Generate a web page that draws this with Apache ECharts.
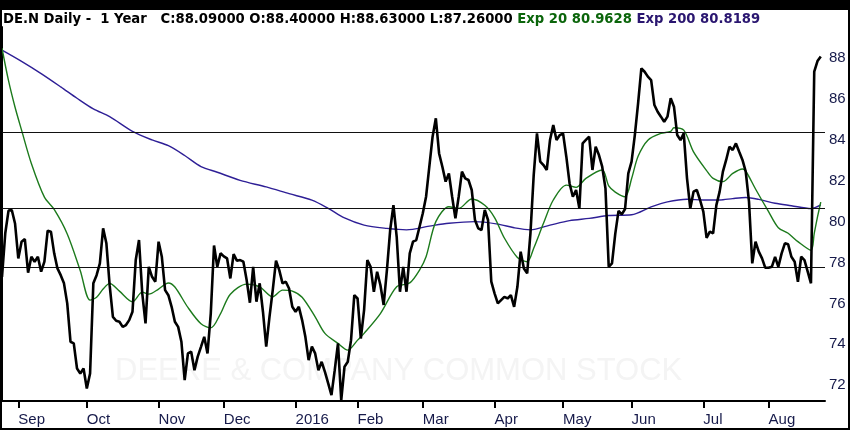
<!DOCTYPE html>
<html>
<head>
<meta charset="utf-8">
<script src="https://cdn.jsdelivr.net/npm/echarts@6/dist/echarts.min.js"></script>
<style>html,body{margin:0;padding:0;background:#fff}#c{width:850px;height:430px}</style>
</head>
<body>
<div id="c"></div>
<script>
// Daily closes (trading-day index 0..251)
const closes = [
77.30,79.43,80.54,80.57,79.91,78.20,79.02,79.15,77.50,78.28,
78.04,78.28,77.55,78.04,79.56,79.51,78.45,77.71,77.38,76.98,
76.00,74.12,74.04,72.81,72.57,72.81,71.83,72.57,76.98,77.38,
77.96,79.67,78.94,76.89,75.34,75.15,75.10,74.85,74.94,75.18,
75.59,78.12,79.10,76.49,75.02,77.79,77.30,77.06,79.02,78.28,
76.65,76.40,75.83,75.10,74.85,74.12,72.24,73.55,73.63,72.73,
73.39,73.87,74.36,73.55,75.50,78.83,77.79,78.45,78.30,78.20,
77.22,78.41,78.09,78.12,78.04,77.14,76.03,77.79,76.08,76.98,
75.59,73.88,75.34,76.65,78.09,77.63,76.98,77.06,76.73,75.83,
75.59,75.83,75.18,74.36,73.22,73.88,73.55,72.73,73.14,72.65,
72.08,71.51,72.73,74.04,71.26,72.90,73.14,74.20,76.40,76.24,
74.28,75.67,78.12,77.79,76.57,77.55,76.90,75.92,77.63,79.59,
80.81,79.26,76.57,77.79,76.57,78.45,79.02,79.10,79.75,80.41,
81.22,82.69,84.16,85.06,83.34,82.69,81.96,82.36,81.22,80.16,
81.22,82.45,82.12,82.04,81.55,80.08,79.67,79.59,80.57,80.08,
77.06,76.49,76.00,76.16,76.32,76.24,76.40,75.83,76.81,78.53,
77.71,77.47,79.43,82.28,84.32,82.94,82.77,82.53,84.00,84.73,
84.00,84.24,84.32,83.18,81.87,81.22,81.55,80.65,83.83,84.00,
84.16,82.53,83.67,83.26,82.69,81.63,77.79,77.96,79.40,80.53,
80.36,80.62,82.36,82.94,84.24,85.79,87.50,87.34,87.10,86.93,
85.71,85.38,85.14,84.89,85.14,86.04,85.63,84.24,83.99,84.32,
82.12,80.65,81.47,81.55,81.06,80.49,79.21,79.51,79.43,80.81,
81.47,82.45,83.02,83.67,83.51,83.83,83.42,83.02,82.45,80.98,
77.96,79.02,78.53,78.20,77.74,77.74,77.79,78.28,77.79,78.45,
78.94,78.89,78.28,78.04,77.06,78.28,78.12,77.55,76.98,87.34,
87.86,88.09
];
// Exp 20 (index, value)
const ema20 = [
[0,88.49],[2,86.9],[4,85.6],[6,84.48],[9,82.85],[13,81.2],[16,80.6],[20,79.4],[24,77.6],[27,76.16],
[29,76.3],[31,76.7],[33,76.98],[36,76.6],[40,76.08],[43,76.55],[45,76.45],[48,76.7],[51,77.0],[53,76.8],
[57,75.8],[61,75.0],[64,74.8],[67,75.5],[70,76.45],[75,76.94],[79,76.81],[83,76.32],[86,76.65],[89,76.6],
[92,76.3],[96,75.34],[99,74.53],[103,74.04],[106,73.71],[109,74.2],[111,74.53],[116,75.5],[121,76.81],[125,77.0],
[128,77.63],[130,78.28],[133,80.0],[137,80.73],[140,80.65],[144,81.11],[148,80.8],[151,80.2],[154,79.2],[158,78.25],
[161,78.04],[163,78.7],[166,79.92],[169,81.06],[173,81.79],[176,81.68],[179,82.12],[184,82.53],[186,81.75],[188,81.45],
[191,81.22],[193,82.1],[195,83.2],[198,83.99],[202,84.32],[205,84.42],[206,84.6],[209,84.48],[212,83.42],[216,82.5],
[218,82.12],[221,81.96],[224,82.36],[227,82.58],[228,82.48],[231,81.6],[235,80.49],[238,79.7],[241,79.43],[244,79.02],
[248,78.6],[249,79.43],[250,80.23],[251,80.96]
];
// Exp 200 (index, value)
const ema200 = [
[0,88.40],[6,87.85],[12,87.25],[18,86.6],[23,86.04],[28,85.52],[33,85.14],[40,84.42],[46,84.0],[51,83.72],
[56,83.24],[61,82.7],[66,82.42],[73,82.02],[81,81.7],[88,81.37],[95,81.05],[100,80.65],[105,80.18],[111,79.83],
[118,79.67],[124,79.6],[131,79.78],[137,79.92],[145,80.0],[152,79.88],[157,79.7],[162,79.6],[168,79.83],[174,80.05],
[180,80.16],[186,80.3],[193,80.34],[199,80.72],[204,80.97],[210,81.1],[215,81.06],[220,81.06],[224,81.13],[228,81.18],
[232,81.09],[237,80.9],[242,80.78],[248,80.64],[251,80.82]
];
// Horizontal reference levels
const levels = [84.40, 80.65, 77.76];
// Month ticks (trading-day index) and labels
const tickIdx = [5, 26, 48, 68, 90, 109, 129, 151, 172, 193, 215, 235];
const tickLabels = ['Sep','Oct','Nov','Dec','2016','Feb','Mar','Apr','May','Jun','Jul','Aug'];
const yTicks = [72, 74, 76, 78, 80, 82, 84, 86, 88];
const header = 'DE.N Daily -  1 Year   C:88.09000 O:88.40000 H:88.63000 L:87.26000 ';
const hdrEma20 = 'Exp 20 80.9628 ';
const hdrEma200 = 'Exp 200 80.8189';

const chart = echarts.init(document.getElementById('c'));
const axisFont = 'Liberation Sans, Arial, sans-serif';
const hdrFont = 'DejaVu Sans, sans-serif';
chart.setOption({
  animation: false,
  backgroundColor: '#ffffff',
  title: {
    text: '{b|' + header + '}{g|' + hdrEma20 + '}{p|' + hdrEma200 + '}',
    left: 3, top: 13, padding: 0,
    textStyle: {
      rich: {
        b: { color: '#000000', fontSize: 13.2, fontFamily: hdrFont },
        g: { color: '#0b650b', fontSize: 13.2, fontFamily: hdrFont },
        p: { color: '#2a1670', fontSize: 13.2, fontFamily: hdrFont }
      }
    }
  },
  graphic: [
    { type: 'text', left: 115, top: 356, z: 0, silent: true,
      style: { text: 'DEERE & COMPANY COMMON STOCK', fill: '#f4f4f4', font: '31px Liberation Sans, Arial, sans-serif' } },
    { type: 'rect', left: 0, top: 0, z: 100, shape: { width: 850, height: 10 }, style: { fill: '#000' } },
    { type: 'rect', left: 0, top: 0, z: 100, shape: { width: 2, height: 430 }, style: { fill: '#000' } },
    { type: 'rect', left: 848, top: 0, z: 100, shape: { width: 2, height: 430 }, style: { fill: '#000' } },
    { type: 'rect', left: 0, top: 428, z: 100, shape: { width: 850, height: 2 }, style: { fill: '#000' } }
  ],
  grid: { left: 2, top: 27, width: 823, bottom: 29, containLabel: false },
  xAxis: {
    type: 'value', min: 0, max: 252.3,
    axisLine: { show: true, onZero: false, lineStyle: { color: '#000', width: 2 } },
    axisTick: { show: true, customValues: tickIdx, length: 7, lineStyle: { color: '#000', width: 2 } },
    axisLabel: {
      customValues: tickIdx, align: 'left', margin: 11,
      color: '#161a4a', fontSize: 15, fontFamily: axisFont,
      formatter: v => tickLabels[tickIdx.indexOf(Math.round(v))] || ''
    },
    splitLine: { show: false }
  },
  yAxis: {
    type: 'value', position: 'right', min: 71.22, max: 89.53,
    axisLine: { show: true, lineStyle: { color: '#000', width: 2 } },
    axisTick: { show: false },
    axisLabel: {
      customValues: yTicks, margin: 4, color: '#161a4a', fontSize: 15, fontFamily: axisFont,
      formatter: v => String(Math.round(v))
    },
    splitLine: { show: false }
  },
  series: [
    {
      type: 'line', name: 'Exp 200', data: ema200, symbol: 'none', smooth: 0.3, z: 3,
      lineStyle: { color: '#2e1f96', width: 1.4 },
      markLine: {
        silent: true, symbol: 'none', label: { show: false },
        lineStyle: { color: '#111', width: 1.2, type: 'solid' },
        data: levels.map(v => ({ yAxis: v }))
      }
    },
    { type: 'line', name: 'Exp 20', data: ema20, symbol: 'none', smooth: 0.3, z: 4,
      lineStyle: { color: '#1c7a1c', width: 1.4 } },
    { type: 'line', name: 'Close', data: closes.map((v, i) => [i, v]), symbol: 'none', z: 5,
      lineStyle: { color: '#000', width: 2.6 } }
  ]
});
</script>
</body>
</html>
